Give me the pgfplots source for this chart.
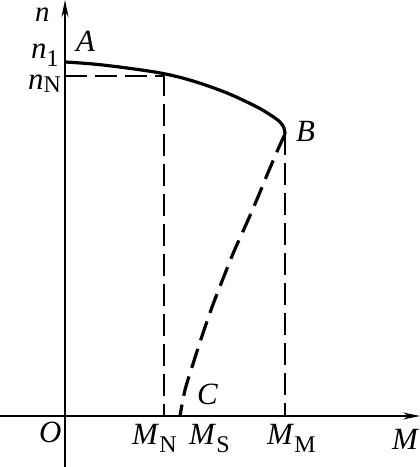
\documentclass[border=0pt]{standalone}
\usepackage{pgfplots}
\pgfplotsset{compat=1.18}
\usepackage{fontspec}
\setmainfont{Liberation Serif}
\usetikzlibrary{arrows.meta}
\newcommand{\lblfont}{\fontsize{31}{35}\selectfont}
\newcommand{\lblsub}[2]{\raisebox{-#1bp}{\fontsize{24}{28}\selectfont #2}}
\begin{document}
\begin{tikzpicture}[x=1bp,y=1bp]
\begin{axis}[
  name=ax,
  scale only axis, width=420bp, height=467bp,
  xmin=-65, xmax=355, ymin=-51, ymax=416,
  axis lines=middle, axis line style={line width=1.8bp,-{Stealth[length=17bp,width=7bp]}},
  xtick=\empty, ytick=\empty, clip=false,
  every axis plot/.append style={black},
]
% guide lines
\addplot[line width=1.3bp, dash pattern=on 22bp off 8bp] coordinates {(0,340) (99,340)};
\addplot[line width=1.3bp, dash pattern=on 22bp off 8bp] coordinates {(99,342) (99,0)};
\addplot[line width=1.3bp, dash pattern=on 22bp off 8bp] coordinates {(220,283) (220,0)};
% solid curve A-B
\addplot[line width=3.2bp, smooth, tension=0.55] coordinates {
(0,354) (28,352) (62,348) (98,342.5) (128,335) (162,323) (192,309) (207,300) (215,294) (219,288) (220,282)};
% dashed curve B-C
\addplot[line width=3.2bp, smooth, tension=0.5, dash pattern=on 20bp off 9bp] coordinates {
(220,282) (212.7,266) (203.3,244) (191.7,216) (181.7,193) (168.3,163) (156.7,134) (146.7,108) (136.7,79) (128.3,53) (120,26) (115,0)};
\node[inner sep=0pt, anchor=base west, font=\fontsize{29}{33}\selectfont\itshape] at (axis cs:-30,394) {n};
\node[inner sep=0pt, anchor=base west, font=\lblfont] at (axis cs:-34,357) {\textit{n}\lblsub{8}{1}};
\node[inner sep=0pt, anchor=base west, font=\lblfont] at (axis cs:-37,326) {\textit{n}\lblsub{3}{N}};
\node[inner sep=0pt, anchor=base west, font=\lblfont\itshape] at (axis cs:11,364) {A};
\node[inner sep=0pt, anchor=base west, font=\lblfont\itshape] at (axis cs:231,274) {B};
\node[inner sep=0pt, anchor=base west, font=\lblfont\itshape] at (axis cs:132,11) {C};
\node[inner sep=0pt, anchor=base west, font=\lblfont\itshape] at (axis cs:-26,-26) {O};
\node[inner sep=0pt, anchor=base west, font=\lblfont] at (axis cs:67,-28) {\textit{M}\lblsub{8}{N}};
\node[inner sep=0pt, anchor=base west, font=\lblfont] at (axis cs:124,-28) {\textit{M}\lblsub{8}{S}};
\node[inner sep=0pt, anchor=base west, font=\lblfont] at (axis cs:202,-28) {\textit{M}\lblsub{8}{M}};
\node[inner sep=0pt, anchor=base west, font=\lblfont\itshape] at (axis cs:327,-33) {M};
\end{axis}
\pgfresetboundingbox
\useasboundingbox (ax.south west) rectangle (ax.north east);
\end{tikzpicture}
\end{document}
